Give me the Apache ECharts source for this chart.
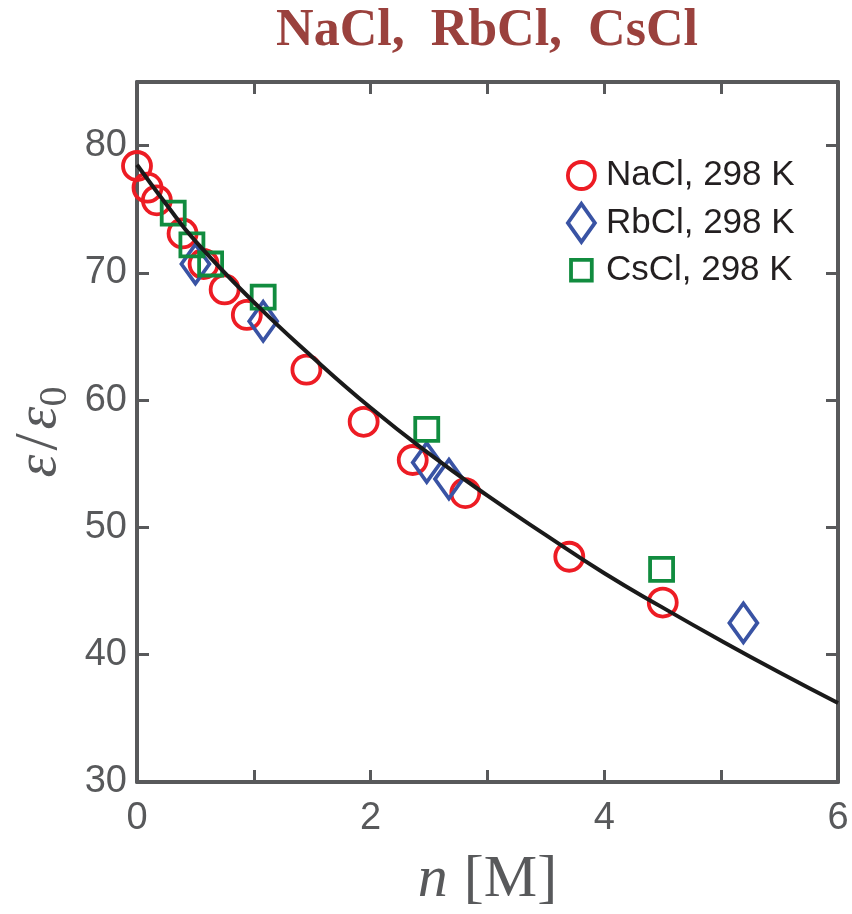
<!DOCTYPE html>
<html>
<head>
<meta charset="utf-8">
<title>NaCl, RbCl, CsCl</title>
<script src="https://cdn.jsdelivr.net/npm/echarts@6/dist/echarts.min.js"></script>
<style>
  html, body { margin: 0; padding: 0; background: #fff; }
  #chart { width: 852px; height: 914px; }
</style>
</head>
<body>
<div id="chart"></div>
<script>
// 数据
const naclN   = [0, 0.09, 0.17, 0.39, 0.57, 0.75, 0.94, 1.45, 1.94, 2.36, 2.81, 3.70, 4.50];
const naclEps = [78.4, 76.7, 75.7, 73.1, 70.7, 68.7, 66.7, 62.4, 58.3, 55.3, 52.7, 47.7, 44.1];

const rbclN   = [0.50, 1.08, 2.48, 2.67, 5.19];
const rbclEps = [70.7, 66.2, 55.1, 53.8, 42.5];

const csclN   = [0.31, 0.47, 0.63, 1.08, 2.48, 4.49];
const csclEps = [74.7, 72.2, 70.7, 68.1, 57.7, 46.7];

// 拟合曲线
const fitN   = [0, 0.25, 0.5, 1, 1.5, 2, 2.5, 3, 3.5, 4, 4.5, 5, 5.5, 6];
const fitEps = [78.5, 75.4, 72.5, 67.7, 63.4, 59.4, 55.8, 52.5, 49.4, 46.4, 43.7, 41.1, 38.6, 36.2];

const seriesNames = ['NaCl, 298 K', 'RbCl, 298 K', 'CsCl, 298 K'];
const titleText = 'NaCl,  RbCl,  CsCl';

const axisColor = '#58595b';
const zip = (xs, ys) => xs.map((x, i) => [x, ys[i]]);

const chart = echarts.init(document.getElementById('chart'));

function frameAxis(pos) {
    return {
        type: 'value',
        position: pos,
        axisLine: { show: true, onZero: false, lineStyle: { color: axisColor, width: 4 } },
        axisTick: { show: true, inside: true, length: 12, lineStyle: { color: axisColor, width: 3 } },
        splitLine: { show: false },
        nameMoveOverlap: false
    };
}

const xBottom = Object.assign(frameAxis('bottom'), {
    min: 0, max: 6, interval: 1,
    axisLabel: {
        margin: 18,
        color: axisColor,
        fontFamily: 'Liberation Sans Narrow, Liberation Sans, Arial',
        fontSize: 38,
        formatter: v => (v % 2 === 0 ? String(v) : '')
    },
    name: '{i|n}{r|[M]}',
    nameLocation: 'middle',
    nameGap: 68,
    nameTextStyle: {
        rich: {
            i: { fontFamily: 'Liberation Serif', fontStyle: 'italic', fontSize: 60, color: axisColor },
            r: { fontFamily: 'Liberation Serif', fontSize: 60, color: axisColor, padding: [0, 0, 0, 16] }
        }
    }
});
const xTop = Object.assign(frameAxis('top'), { min: 0, max: 6, interval: 1, axisLabel: { show: false } });

const yLeft = Object.assign(frameAxis('left'), {
    min: 30, max: 85, interval: 10,
    axisLabel: {
        margin: 10,
        color: axisColor,
        fontFamily: 'Liberation Sans Narrow, Liberation Sans, Arial',
        fontSize: 38,
        formatter: v => (v % 10 === 0 ? String(v) : '')
    },
    name: '{e|ε}{s|/}{e|ε}{z|0}',
    nameLocation: 'middle',
    nameGap: 62,
    nameTextStyle: {
        rich: {
            e: { fontFamily: 'Liberation Serif', fontStyle: 'italic', fontSize: 58, lineHeight: 60, color: axisColor },
            s: { fontFamily: 'Liberation Serif', fontSize: 62, lineHeight: 60, color: axisColor, padding: [0, 4, 0, 4] },
            z: { fontFamily: 'Liberation Serif', fontSize: 40, lineHeight: 70, verticalAlign: 'bottom', color: axisColor }
        }
    }
});
const yRight = Object.assign(frameAxis('right'), { min: 30, max: 85, interval: 10, axisLabel: { show: false } });

function markerSeries(name, data, symbol, size, color) {
    return {
        name: name,
        type: 'scatter',
        data: data,
        symbol: symbol,
        symbolSize: size,
        itemStyle: { color: 'rgba(0,0,0,0)', borderColor: color, borderWidth: 3.8, opacity: 1 },
        emphasis: { disabled: true },
        z: 2
    };
}

chart.setOption({
    animation: false,
    backgroundColor: '#fff',
    graphic: [{
        type: 'text',
        x: 487,
        y: 6,
        style: {
            text: titleText,
            align: 'center',
            verticalAlign: 'top',
            fontFamily: 'Liberation Serif',
            fontWeight: 'bold',
            fontSize: 52,
            fill: '#9a413d'
        }
    }],
    grid: { left: 137, right: 14, top: 82, bottom: 132, containLabel: false, outerBoundsMode: 'none' },
    legend: {
        left: 561,
        top: 153,
        orient: 'vertical',
        itemWidth: 27,
        itemHeight: 38,
        itemGap: 9,
        selectedMode: false,
        itemStyle: { borderWidth: 3.8, opacity: 1 },
        textStyle: { fontFamily: 'Liberation Sans, Arial', fontSize: 35, color: '#231f20', padding: [0, 0, 0, 6] },
        data: [
            { name: seriesNames[0], icon: 'circle' },
            { name: seriesNames[1], icon: 'diamond' },
            { name: seriesNames[2], icon: 'path://M0,0L10,0L10,10L0,10Z M-1.5,-1.5 M11.5,11.5' }
        ]
    },
    xAxis: [xBottom, xTop],
    yAxis: [yLeft, yRight],
    series: [
        markerSeries(seriesNames[0], zip(naclN, naclEps), 'circle', 28, '#ed1c24'),
        markerSeries(seriesNames[1], zip(rbclN, rbclEps), 'diamond', [28, 39], '#3953a4'),
        markerSeries(seriesNames[2], zip(csclN, csclEps), 'rect', 23, '#118c3f'),
        {
            name: 'fit',
            type: 'line',
            data: zip(fitN, fitEps),
            smooth: true,
            showSymbol: false,
            symbol: 'none',
            lineStyle: { color: '#1a1a1a', width: 4 },
            emphasis: { disabled: true },
            z: 5
        }
    ]
});
</script>
</body>
</html>
